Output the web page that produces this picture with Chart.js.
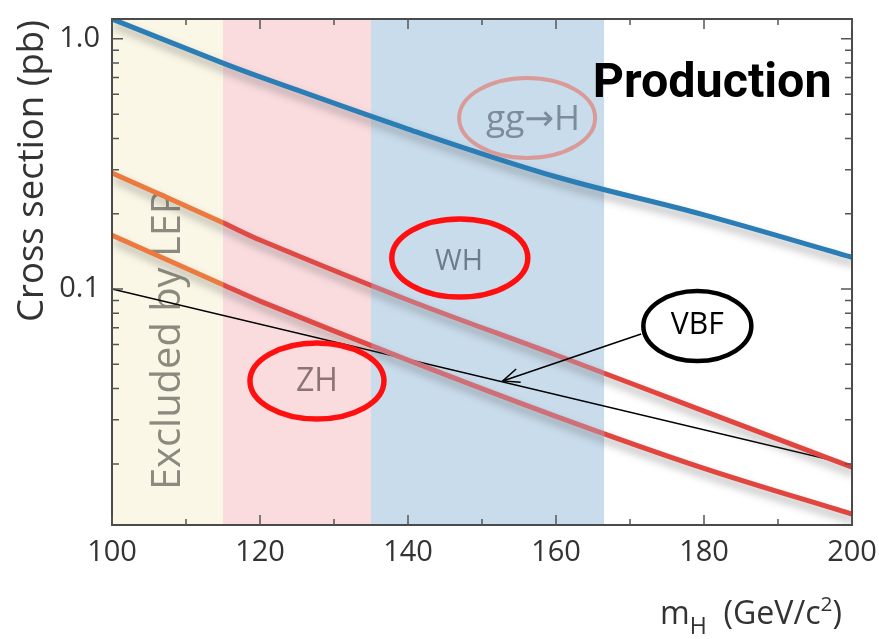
<!DOCTYPE html>
<html>
<head>
<meta charset="utf-8">
<script src="https://cdn.jsdelivr.net/npm/chart.js@4.4.0/dist/chart.umd.min.js"></script>
<style>
  html, body { margin: 0; padding: 0; background: #fff; }
  #wrap { width: 879px; height: 639px; }
</style>
</head>
<body>
<div id="wrap"><canvas id="xsecChart" width="879" height="639"></canvas></div>
<script>
// values (pb vs m_H in GeV/c^2)
const massPoints = [100, 115, 120, 140, 160, 180, 200];
const ggH = [1.2, 0.80, 0.705, 0.436, 0.281, 0.198, 0.134];
const WH = [0.291, 0.184, 0.157, 0.0904, 0.0545, 0.0325, 0.0194];
const ZH = [0.164, 0.104, 0.0895, 0.052, 0.031, 0.0192, 0.0126];
const vbfMass = [100, 200];
const VBF = [0.1, 0.0198];

const bandEdges = [100, 115, 135, 166.5];
const bandColors = ['#faf7e6', '#fadcdf', '#c9dcec'];
const xTicks = [100, 120, 140, 160, 180, 200];
const yTicks = [0.1, 1];

const FONT = "'Open Sans', 'DejaVu Sans', sans-serif";

function toXY(xs, ys) {
    return xs.map((x, i) => ({ x: x, y: ys[i] }));
}

// red curves change tint with the band behind them
function redGradient(chart) {
    const area = chart.chartArea;
    if (!area) return '#e0453f';
    const sx = chart.scales.x;
    const f = v => Math.min(1, Math.max(0, (sx.getPixelForValue(v) - area.left) / (area.right - area.left)));
    const g = chart.ctx.createLinearGradient(area.left, 0, area.right, 0);
    g.addColorStop(0, '#ec7a3e');
    g.addColorStop(f(bandEdges[1]), '#ec7a3e');
    g.addColorStop(f(bandEdges[1]) + 0.001, '#e04a46');
    g.addColorStop(f(bandEdges[2]), '#e04a46');
    g.addColorStop(f(bandEdges[2]) + 0.001, '#cf7078');
    g.addColorStop(f(bandEdges[3]), '#cf7078');
    g.addColorStop(f(bandEdges[3]) + 0.001, '#e2443e');
    g.addColorStop(1, '#e2443e');
    return g;
}

function fitText(ctx, text, weight, family, width) {
    ctx.font = weight + ' 40px ' + family;
    const w = ctx.measureText(text).width;
    ctx.font = weight + ' ' + (40 * width / w).toFixed(2) + 'px ' + family;
}

function textAt(ctx, text, x, y, width, color, opts) {
    opts = opts || {};
    ctx.save();
    ctx.translate(x, y);
    if (opts.rotate) ctx.rotate(opts.rotate);
    fitText(ctx, text, opts.weight || 'normal', opts.family || FONT, width);
    ctx.fillStyle = color;
    ctx.textAlign = 'center';
    ctx.textBaseline = 'middle';
    ctx.fillText(text, 0, 0);
    ctx.restore();
}

function ellipseAt(ctx, x, y, rx, ry, color, lw) {
    ctx.save();
    ctx.strokeStyle = color;
    ctx.lineWidth = lw;
    ctx.beginPath();
    ctx.ellipse(x, y, rx, ry, 0, 0, Math.PI * 2);
    ctx.stroke();
    ctx.restore();
}

const bandsPlugin = {
    id: 'bands',
    beforeDatasetsDraw(chart) {
        const { ctx, chartArea, scales } = chart;
        ctx.save();
        for (let i = 0; i < bandColors.length; i++) {
            const x0 = scales.x.getPixelForValue(bandEdges[i]);
            const x1 = scales.x.getPixelForValue(bandEdges[i + 1]);
            ctx.fillStyle = bandColors[i];
            ctx.fillRect(x0, chartArea.top, x1 - x0, chartArea.bottom - chartArea.top);
        }
        ctx.restore();
        // band label sits under the curves
        textAt(ctx, 'Excluded by LEP', scales.x.getPixelForValue(107.6), scales.y.getPixelForValue(0.0625),
            300, '#8c8a7e', { rotate: -Math.PI / 2 });
    }
};

const shadowPlugin = {
    id: 'lineShadow',
    beforeDatasetDraw(chart, args) {
        if (!chart.data.datasets[args.index].shadow) return;
        const c = chart.ctx;
        c.save();
        c.shadowColor = 'rgba(70,70,70,0.45)';
        c.shadowBlur = 8;
        c.shadowOffsetX = 2;
        c.shadowOffsetY = 6;
    },
    afterDatasetDraw(chart, args) {
        if (chart.data.datasets[args.index].shadow) chart.ctx.restore();
    }
};

const decorPlugin = {
    id: 'decor',
    afterDraw(chart) {
        const { ctx, chartArea: a, scales } = chart;
        const px = v => scales.x.getPixelForValue(v);
        const py = v => scales.y.getPixelForValue(v);

        // frame
        ctx.save();
        ctx.strokeStyle = '#4a4a4a';
        ctx.lineWidth = 2;
        ctx.strokeRect(a.left, a.top, a.right - a.left, a.bottom - a.top);

        // inward ticks
        ctx.lineWidth = 1.5;
        ctx.strokeStyle = '#555';
        ctx.beginPath();
        for (let v = 100; v <= 200; v += 10) {
            const len = v % 20 === 0 ? 10 : 6;
            const x = px(v);
            ctx.moveTo(x, a.bottom); ctx.lineTo(x, a.bottom - len);
            ctx.moveTo(x, a.top); ctx.lineTo(x, a.top + len);
        }
        [0.01, 0.1, 1].forEach(d => {
            for (let k = 1; k <= 9; k++) {
                const v = k * d;
                if (v < scales.y.min || v > scales.y.max) continue;
                const len = k === 1 ? 11 : 7;
                const y = py(v);
                ctx.moveTo(a.left, y); ctx.lineTo(a.left + len, y);
                ctx.moveTo(a.right, y); ctx.lineTo(a.right - len, y);
            }
        });
        ctx.stroke();
        ctx.restore();

        // axis titles
        textAt(ctx, 'Cross section (pb)', 33, 171, 302, '#333', { rotate: -Math.PI / 2 });

        ctx.save();
        ctx.fillStyle = '#333';
        ctx.textBaseline = 'alphabetic';
        const parts = [
            ['m', 1, 0], ['H', 0.72, 0.3], ['  (GeV/c', 1, 0], ['2', 0.65, -0.42], [')', 1, 0]
        ];
        const measure = size => parts.reduce((s, p) => {
            ctx.font = (p[1] * size) + 'px ' + FONT;
            return s + ctx.measureText(p[0]).width;
        }, 0);
        const size = 30 * 182 / measure(30);
        let x = 660;
        const base = 624;
        parts.forEach(p => {
            ctx.font = (p[1] * size).toFixed(2) + 'px ' + FONT;
            ctx.fillText(p[0], x, base + p[2] * size);
            x += ctx.measureText(p[0]).width;
        });
        ctx.restore();

        // panel title
        textAt(ctx, 'Production', px(181.1), py(0.655), 239, '#000', { weight: 'bold', family: "'Roboto', 'DejaVu Sans', sans-serif" });

        // process labels
        ellipseAt(ctx, px(156.1), py(0.483), 68, 40, '#d99a98', 4);
        textAt(ctx, 'gg\u2192H', px(156.9), py(0.475), 94, '#7d8c9c');

        ellipseAt(ctx, px(147.0), py(0.133), 68, 39, '#ff1010', 5.5);
        textAt(ctx, 'WH', px(146.9), py(0.128), 48, '#6d7d8d');

        ellipseAt(ctx, px(127.7), py(0.0429), 67, 38, '#ff1010', 5.5);
        textAt(ctx, 'ZH', px(127.7), py(0.0424), 42, '#8a7478');

        ellipseAt(ctx, px(179.1), py(0.0711), 54, 35, '#000', 4.5);
        textAt(ctx, 'VBF', px(179.1), py(0.0713), 53, '#000');

        // arrow to the VBF line
        const x0 = px(171.5), y0 = py(0.0661), x1 = px(152.8), y1 = py(0.0429);
        const ang = Math.atan2(y1 - y0, x1 - x0);
        ctx.save();
        ctx.strokeStyle = '#000';
        ctx.lineWidth = 1.5;
        ctx.beginPath();
        ctx.moveTo(x0, y0); ctx.lineTo(x1, y1);
        ctx.moveTo(x1 - 18 * Math.cos(ang - 0.4), y1 - 18 * Math.sin(ang - 0.4));
        ctx.lineTo(x1, y1);
        ctx.lineTo(x1 - 18 * Math.cos(ang + 0.4), y1 - 18 * Math.sin(ang + 0.4));
        ctx.stroke();
        ctx.restore();
    }
};

const chart = new Chart(document.getElementById('xsecChart').getContext('2d'), {
    type: 'line',
    data: {
        datasets: [
            {
                label: 'gg\u2192H',
                data: toXY(massPoints, ggH),
                borderColor: '#2b7db5',
                borderWidth: 5,
                tension: 0.35,
                pointRadius: 0,
                shadow: true
            },
            {
                label: 'WH',
                data: toXY(massPoints, WH),
                borderColor: ctx => redGradient(ctx.chart),
                borderWidth: 5,
                tension: 0.35,
                pointRadius: 0,
                shadow: true
            },
            {
                label: 'ZH',
                data: toXY(massPoints, ZH),
                borderColor: ctx => redGradient(ctx.chart),
                borderWidth: 5,
                tension: 0.35,
                pointRadius: 0,
                shadow: true
            },
            {
                label: 'VBF',
                data: toXY(vbfMass, VBF),
                borderColor: '#000',
                borderWidth: 1.5,
                pointRadius: 0,
                shadow: false
            }
        ]
    },
    options: {
        responsive: false,
        devicePixelRatio: 1,
        animation: false,
        layout: { padding: { left: 0, right: 27, top: 19, bottom: 0 } },
        plugins: {
            legend: { display: false },
            tooltip: { enabled: false }
        },
        scales: {
            x: {
                type: 'linear',
                min: 100,
                max: 200,
                grid: { display: false, drawTicks: false },
                border: { display: false },
                afterBuildTicks: s => { s.ticks = xTicks.map(v => ({ value: v })); },
                ticks: { padding: 10, color: '#333', font: { family: FONT, size: 29 } },
                afterFit: s => { s.height = 114; s.paddingLeft = 0; s.paddingRight = 0; }
            },
            y: {
                type: 'logarithmic',
                min: 0.0114,
                max: 1.2,
                grid: { display: false, drawTicks: false },
                border: { display: false },
                afterBuildTicks: s => { s.ticks = yTicks.map(v => ({ value: v })); },
                ticks: {
                    padding: 12,
                    color: '#333',
                    font: { family: FONT, size: 29 },
                    callback: v => v.toFixed(1)
                },
                afterFit: s => { s.width = 112; s.paddingTop = 0; s.paddingBottom = 0; }
            }
        }
    },
    plugins: [bandsPlugin, shadowPlugin, decorPlugin]
});
</script>
</body>
</html>
